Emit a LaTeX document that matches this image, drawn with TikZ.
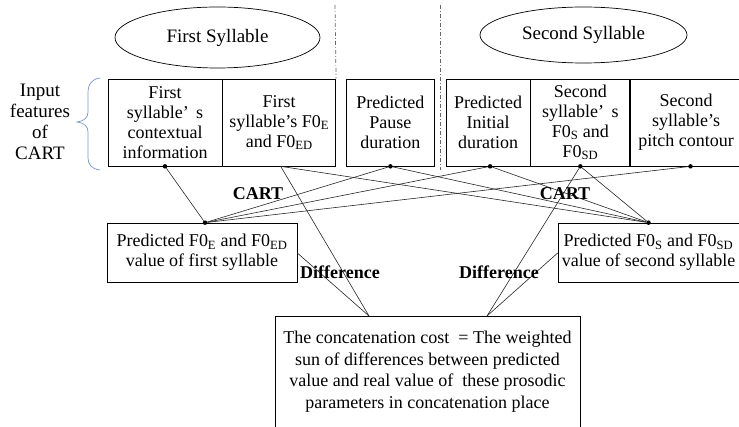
\documentclass[tikz,border=0pt]{standalone}
\usepackage{fontspec}
\setmainfont{Liberation Serif}
\usepackage{tikz}
\usetikzlibrary{positioning,shapes.geometric}

\definecolor{bracecol}{RGB}{125,150,195}

\begin{document}
\begin{tikzpicture}[x=1pt, y=-1pt, font=\fontsize{18}{20}\selectfont]
        \tikzstyle{box}=[draw, align=center, inner sep=1pt, minimum height=87pt, line width=0.7pt]
        \tikzstyle{res}=[draw, align=center, inner sep=1pt, minimum height=59pt, line width=0.7pt]
        \tikzstyle{syl}=[draw, ellipse, line width=0.7pt, font=\fontsize{19}{20}\selectfont]
        \tikzstyle{dot}=[circle, fill, inner sep=0pt, minimum size=4.5pt]
        \tikzstyle{link}=[line width=0.6pt, black!85]
        \tikzstyle{sep}=[black!60, line width=0.7pt, dash pattern=on 4pt off 2pt on 1pt off 2pt]
        \tikzstyle{tag}=[font=\fontsize{18}{20}\selectfont\bfseries]

        \useasboundingbox (0,0) rectangle (739,427);

        % syllables
        \node (s1) [syl, minimum width=205pt, minimum height=61pt] at (217.5,37.5) {First Syllable};
        \node (s2) [syl, minimum width=207pt, minimum height=56pt] at (583.5,35) {Second Syllable};

        % input features
        \node (ctx) [box, minimum width=114pt] at (165,122.5) {First\\syllable’\,\ s\\contextual\\information};
        \node (f0e) [box, minimum width=113pt, right=0pt of ctx] {First\\syllable's F0\textsubscript{E}\\and F0\textsubscript{ED}};
        \node (pause) [box, minimum width=88pt, right=10pt of f0e] {Predicted\\Pause\\duration};
        \node (init) [box, minimum width=84pt, right=11pt of pause] {Predicted\\Initial\\duration};
        \node (f0s) [box, minimum width=99pt, right=0pt of init] {Second\\syllable’\,\ s\\F0\textsubscript{S} and\\F0\textsubscript{SD}};
        \node (pitch) [box, minimum width=111pt, right=0pt of f0s] {Second\\syllable's\\pitch contour};

        \node (in) [align=center, font=\fontsize{19}{21}\selectfont] at (40,122) {Input\\features\\of\\CART};
        \draw[bracecol, line width=0.7pt] (100,78) .. controls (92,79) and (88,84) .. (88,93) -- (88,112)
            .. controls (88,118) and (84,121) .. (77,122) .. controls (84,123) and (88,126) .. (88,132)
            -- (88,158) .. controls (88,165) and (92,169) .. (100,170);

        \draw[sep] (335,5) -- (f0e.north east);
        \draw[sep] (440,5) -- (440,170);

        % predictions
        \node (pl) [res, minimum width=190pt] at (202,252.5) {Predicted F0\textsubscript{E} and F0\textsubscript{ED}\\value of first syllable};
        \node (pr) [res, minimum width=181pt] at (648.5,252.5) {Predicted F0\textsubscript{S} and F0\textsubscript{SD}\\value of second syllable};

        \node (cost) [draw, align=center, minimum width=305pt, minimum height=111pt, line width=0.7pt,
            font=\fontsize{18}{21.5}\selectfont] at (427.5,371.5)
            {The concatenation cost \ = The weighted\\sun of differences between predicted\\value and real value of \ these prosodic\\parameters in concatenation place};

        % dots
        \node (ctx d) [dot] at (ctx.south) {};
        \node (pause d) [dot] at (pause.south) {};
        \node (init d) [dot] at ([xshift=2pt]init.south) {};
        \node (f0s d) [dot] at (f0s.south) {};
        \node (pitch d) [dot] at ([xshift=4.5pt]pitch.south) {};
        \node (pl d) [dot] at ([xshift=3pt]pl.north) {};
        \node (pr d) [dot] at (pr.north) {};
        \coordinate (f0e d) at ([xshift=1.5pt]f0e.south);
        \coordinate (cost l) at (369,316);
        \coordinate (cost r) at (487,316);

        \foreach \a in {ctx d, pause d, init d, pitch d}
            \draw[link] (\a) -- (pl d);
        \foreach \a in {f0e d, pause d, init d, f0s d}
            \draw[link] (\a) -- (pr d);

        \draw[link] (f0e d) -- (cost l);
        \draw[link] ([yshift=-0.5pt]pl.east) -- (cost l);
        \draw[link] (f0s d) -- (cost r);
        \draw[link] ([yshift=-0.5pt]pr.west) -- (cost r);

        \node (cart l) [tag] at (258,194) {CART};
        \node (cart r) [tag] at (565,194) {CART};
        \node (diff l) [tag] at (340,272) {Difference};
        \node (diff r) [tag] at (499,272) {Difference};

    \end{tikzpicture}
\end{document}
